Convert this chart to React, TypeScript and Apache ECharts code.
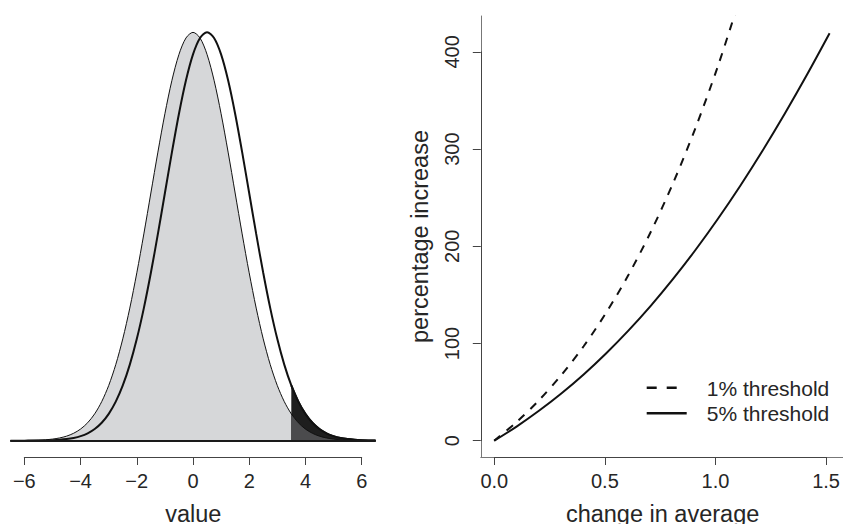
import React, { useEffect, useRef } from "react";
import * as echarts from "echarts";

// ---- Left panel: density curves ----
const densX = [
  -6.5, -6.25, -6, -5.75, -5.5, -5.25, -5, -4.75, -4.5, -4.25, -4, -3.75, -3.5, -3.25, -3, -2.75, -2.5, -2.25, -2,
  -1.75, -1.5, -1.25, -1, -0.75, -0.5, -0.25, 0, 0.25, 0.5, 0.75, 1, 1.25, 1.5, 1.75, 2, 2.25, 2.5, 2.75, 3, 3.25,
  3.5, 3.75, 4, 4.25, 4.5, 4.75, 5, 5.25, 5.5, 5.75, 6, 6.25, 6.5,
];
const originalDensity = [
  0.00002, 0.00005, 0.00009, 0.00017, 0.00032, 0.00058, 0.00103, 0.00177, 0.00295, 0.00481, 0.0076, 0.01169, 0.01748,
  0.02544, 0.03599, 0.04954, 0.06632, 0.08634, 0.10934, 0.13467, 0.16131, 0.18794, 0.21297, 0.23471, 0.25159, 0.26229,
  0.26596, 0.26229, 0.25159, 0.23471, 0.21297, 0.18794, 0.16131, 0.13467, 0.10934, 0.08634, 0.06632, 0.04954, 0.03599,
  0.02544, 0.01748, 0.01169, 0.0076, 0.00481, 0.00295, 0.00177, 0.00103, 0.00058, 0.00032, 0.00017, 0.00009, 0.00005,
  0.00002,
];
const shiftedDensity = [
  0.000005, 0.00001, 0.00002, 0.00005, 0.00009, 0.00017, 0.00032, 0.00058, 0.00103, 0.00177, 0.00295, 0.00481, 0.0076,
  0.01169, 0.01748, 0.02544, 0.03599, 0.04954, 0.06632, 0.08634, 0.10934, 0.13467, 0.16131, 0.18794, 0.21297, 0.23471,
  0.25159, 0.26229, 0.26596, 0.26229, 0.25159, 0.23471, 0.21297, 0.18794, 0.16131, 0.13467, 0.10934, 0.08634, 0.06632,
  0.04954, 0.03599, 0.02544, 0.01748, 0.01169, 0.0076, 0.00481, 0.00295, 0.00177, 0.00103, 0.00058, 0.00032, 0.00017,
  0.00009,
];
const tailThreshold = 3.5;
const valueTicks = [-6, 6, 2]; // min, max, step

// ---- Right panel: percentage increase ----
const changeInAverage = [0, 0.1, 0.2, 0.3, 0.4, 0.5, 0.6, 0.7, 0.8, 0.9, 1.0, 1.1, 1.2, 1.3, 1.4, 1.5];
const pct1Threshold = [0, 19.2, 41.5, 67.4, 97.1, 131.4, 170.3, 214.6, 264.9, 321.5, 384.9, 455.8];
const pct5Threshold = [0, 14.5, 30.7, 48.5, 68.1, 89.7, 113.2, 138.7, 166.4, 196.1, 228.0, 262.0, 298.2, 336.5, 376.8, 419.0];
const legendLabels = ["1% threshold", "5% threshold"];

const FONT = '"Liberation Sans", Arial, Helvetica, sans-serif';
const TEXT = "#262626";
const AXIS = "#444";

export default function App() {
  const ref = useRef<HTMLDivElement>(null);

  useEffect(() => {
    if (!ref.current) return;
    const chart = echarts.init(ref.current, undefined, { renderer: "svg" });

    const pairs = (xs: number[], ys: number[]) => ys.map((y, i) => [xs[i], y]);
    const tIdx = densX.indexOf(tailThreshold);
    const origPairs = pairs(densX, originalDensity);
    const shiftPairs = pairs(densX, shiftedDensity);

    const minusFmt = (v: number) => (v < 0 ? "\u2212" + Math.abs(v) : String(v));

    const option: any = {
      animation: false,
      backgroundColor: "#ffffff",
      textStyle: { fontFamily: FONT },
      grid: [
        { left: 11, top: 16, width: 364, height: 441 },
        { left: 24.3, top: 16, width: 337.4, height: 441 },
        { left: 480.8, top: 16, right: -1.7, height: 441 },
        { left: 494.3, top: 51.9, right: 12, height: 388.8 },
      ],
      xAxis: [
        {
          gridIndex: 0,
          type: "value",
          min: -6.48,
          max: 6.48,
          z: 10,
          axisLine: { show: true, onZero: true, lineStyle: { color: "#1a1a1a", width: 2 } },
          axisTick: { show: false },
          axisLabel: { show: false },
          splitLine: { show: false },
        },
        {
          gridIndex: 1,
          type: "value",
          min: valueTicks[0],
          max: valueTicks[1],
          interval: valueTicks[2],
          position: "bottom",
          axisLine: { show: true, onZero: false, lineStyle: { color: AXIS, width: 1 } },
          axisTick: { show: true, length: 8, lineStyle: { color: AXIS, width: 1 } },
          axisLabel: {
            show: true,
            fontSize: 20,
            fontFamily: FONT,
            color: TEXT,
            margin: 24,
            verticalAlign: "middle",
            formatter: minusFmt,
          },
          splitLine: { show: false },
        },
        {
          gridIndex: 2,
          type: "value",
          min: -0.06,
          max: 1.56,
          axisLine: { show: true, onZero: false, lineStyle: { color: "#777", width: 1 } },
          axisTick: { show: false },
          axisLabel: { show: false },
          splitLine: { show: false },
        },
        {
          gridIndex: 3,
          type: "value",
          min: 0,
          max: 1.5,
          interval: 0.5,
          position: "bottom",
          offset: 16.3,
          axisLine: { show: true, onZero: false, lineStyle: { color: AXIS, width: 1 } },
          axisTick: { show: true, length: 8, lineStyle: { color: AXIS, width: 1 } },
          axisLabel: {
            show: true,
            fontSize: 20,
            fontFamily: FONT,
            color: TEXT,
            margin: 24,
            verticalAlign: "middle",
            formatter: (v: number) => v.toFixed(1),
          },
          splitLine: { show: false },
        },
      ],
      yAxis: [
        { gridIndex: 0, type: "value", min: -0.01064, max: 0.2766, show: false },
        { gridIndex: 1, type: "value", min: 0, max: 1, show: false },
        {
          gridIndex: 2,
          type: "value",
          min: -16.8,
          max: 436.8,
          axisLine: { show: true, onZero: false, lineStyle: { color: "#777", width: 1 } },
          axisTick: { show: false },
          axisLabel: { show: false },
          splitLine: { show: false },
        },
        {
          gridIndex: 3,
          type: "value",
          min: 0,
          max: 400,
          interval: 100,
          position: "left",
          offset: 13.5,
          axisLine: { show: true, onZero: false, lineStyle: { color: AXIS, width: 1 } },
          axisTick: { show: true, length: 8, lineStyle: { color: AXIS, width: 1 } },
          axisLabel: {
            show: true,
            fontSize: 20,
            fontFamily: FONT,
            color: TEXT,
            rotate: 90,
            margin: 28.5,
            align: "center",
            verticalAlign: "middle",
          },
          splitLine: { show: false },
        },
      ],
      series: [
        {
          type: "line",
          xAxisIndex: 0,
          yAxisIndex: 0,
          data: origPairs,
          smooth: 0.3,
          symbol: "none",
          lineStyle: { color: "#111", width: 1 },
          areaStyle: { color: "#d6d7d9", opacity: 1 },
          z: 2,
        },
        {
          type: "line",
          xAxisIndex: 0,
          yAxisIndex: 0,
          data: shiftPairs,
          smooth: 0.3,
          symbol: "none",
          lineStyle: { color: "#111", width: 2 },
          z: 3,
        },
        {
          type: "line",
          xAxisIndex: 0,
          yAxisIndex: 0,
          data: shiftPairs.slice(tIdx),
          smooth: 0.3,
          symbol: "none",
          lineStyle: { color: "#111", width: 2 },
          areaStyle: { color: "#1e1e1e", opacity: 1 },
          z: 4,
        },
        {
          type: "line",
          xAxisIndex: 0,
          yAxisIndex: 0,
          data: origPairs.slice(tIdx),
          smooth: 0.3,
          symbol: "none",
          lineStyle: { color: "#111", width: 1 },
          areaStyle: { color: "#4b4b4d", opacity: 1 },
          z: 5,
        },
        { type: "scatter", xAxisIndex: 1, yAxisIndex: 1, data: [] },
        { type: "scatter", xAxisIndex: 3, yAxisIndex: 3, data: [] },
        {
          type: "line",
          name: legendLabels[0],
          xAxisIndex: 2,
          yAxisIndex: 2,
          data: pairs(changeInAverage, pct1Threshold),
          smooth: 0.3,
          symbol: "none",
          clip: true,
          lineStyle: { color: "#111", width: 2, type: [8, 8] },
        },
        {
          type: "line",
          name: legendLabels[1],
          xAxisIndex: 2,
          yAxisIndex: 2,
          data: pairs(changeInAverage, pct5Threshold),
          smooth: 0.3,
          symbol: "none",
          clip: true,
          lineStyle: { color: "#111", width: 2 },
        },
      ],
      graphic: [
        {
          type: "text",
          x: 193.3,
          y: 513.5,
          style: { text: "value", fontSize: 23.5, fontFamily: FONT, fill: TEXT, align: "center", verticalAlign: "middle" },
        },
        {
          type: "text",
          x: 662.6,
          y: 513.5,
          style: {
            text: "change in average",
            fontSize: 23.5,
            fontFamily: FONT,
            fill: TEXT,
            align: "center",
            verticalAlign: "middle",
          },
        },
        {
          type: "text",
          x: 420,
          y: 236.5,
          rotation: Math.PI / 2,
          style: {
            text: "percentage increase",
            fontSize: 23.5,
            fontFamily: FONT,
            fill: TEXT,
            align: "center",
            verticalAlign: "middle",
          },
        },
        {
          type: "line",
          shape: { x1: 646.7, y1: 387.8, x2: 686.7, y2: 387.8 },
          style: { stroke: "#111", lineWidth: 2.5, lineDash: [10, 10] },
        },
        {
          type: "line",
          shape: { x1: 646.7, y1: 413.3, x2: 686.7, y2: 413.3 },
          style: { stroke: "#111", lineWidth: 2.5 },
        },
        {
          type: "text",
          x: 706.7,
          y: 388.3,
          style: { text: legendLabels[0], fontSize: 21, fontFamily: FONT, fill: TEXT, align: "left", verticalAlign: "middle" },
        },
        {
          type: "text",
          x: 706.7,
          y: 413.3,
          style: { text: legendLabels[1], fontSize: 21, fontFamily: FONT, fill: TEXT, align: "left", verticalAlign: "middle" },
        },
      ],
    };

    chart.setOption(option);
    return () => chart.dispose();
  }, []);

  return <div ref={ref} style={{ position: "absolute", left: 0, top: 0, width: 843, height: 524 }} />;
}
